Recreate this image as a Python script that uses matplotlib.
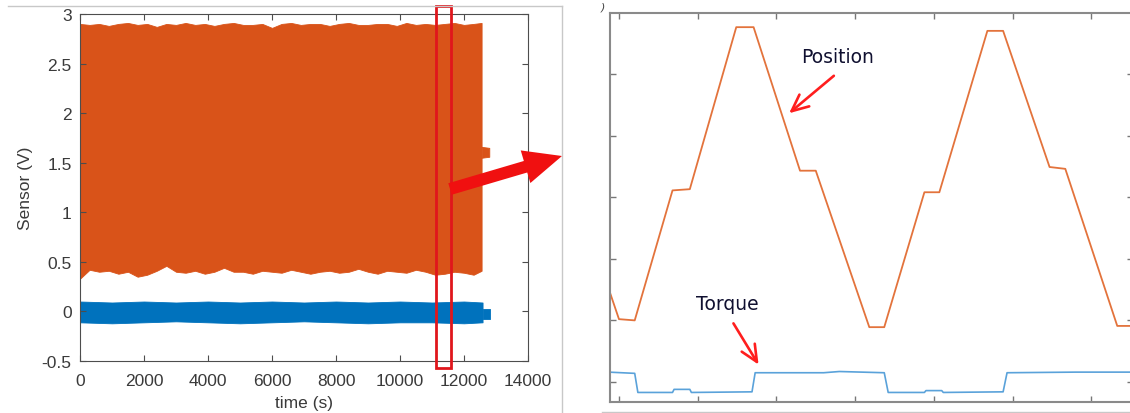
import matplotlib.pyplot as plt
import matplotlib.patches as mpatches
import matplotlib.transforms as mtransforms
from matplotlib.lines import Line2D

# ---- left panel: whole run (envelopes) ----
t_env = [0, 300, 600, 900, 1200, 1500, 1800, 2100, 2400, 2700, 3000, 3300,
         3600, 3900, 4200, 4500, 4800, 5100, 5400, 5700, 6000, 6300, 6600,
         6900, 7200, 7500, 7800, 8100, 8400, 8700, 9000, 9300, 9600, 9900,
         10200, 10500, 10800, 11100, 11400, 11700, 12000, 12300, 12550]
pos_upper = [2.90, 2.89, 2.90, 2.88, 2.90, 2.91, 2.89, 2.90, 2.87, 2.90, 2.89,
             2.91, 2.89, 2.90, 2.88, 2.90, 2.91, 2.89, 2.89, 2.90, 2.86, 2.90,
             2.91, 2.89, 2.90, 2.90, 2.88, 2.90, 2.91, 2.89, 2.89, 2.90, 2.90,
             2.88, 2.91, 2.89, 2.90, 2.89, 2.90, 2.91, 2.89, 2.90, 2.91]
pos_lower = [0.33, 0.42, 0.40, 0.41, 0.38, 0.40, 0.35, 0.37, 0.41, 0.46, 0.40,
             0.39, 0.41, 0.38, 0.40, 0.44, 0.40, 0.40, 0.38, 0.41, 0.40, 0.39,
             0.42, 0.40, 0.38, 0.40, 0.41, 0.39, 0.40, 0.43, 0.40, 0.38, 0.41,
             0.40, 0.39, 0.42, 0.40, 0.37, 0.38, 0.40, 0.39, 0.37, 0.41]
t_tq = [0, 1000, 2000, 3000, 4000, 5000, 6000, 7000, 8000, 9000, 10000,
        11000, 12000, 12580]
tq_upper = [0.10, 0.09, 0.10, 0.09, 0.10, 0.09, 0.10, 0.09, 0.10, 0.09, 0.10,
            0.09, 0.10, 0.09]
tq_lower = [-0.11, -0.12, -0.11, -0.10, -0.11, -0.12, -0.11, -0.10, -0.11,
            -0.12, -0.11, -0.11, -0.12, -0.11]
# short tail pieces after the run stops
t_pos_tail = [12553, 12790]
pos_tail_lo = [1.55, 1.56]
pos_tail_hi = [1.66, 1.65]
t_tq_tail = [12580, 12810]
tq_tail_lo = [-0.08, -0.08]
tq_tail_hi = [0.02, 0.02]
zoom_window = [11130, 11590]

# ---- right panel: zoomed window ----
pos_x = [-0.13, 0.00, 0.20, 0.68, 0.90, 1.49, 1.71, 2.30, 2.50, 3.18, 3.37,
         3.88, 4.07, 4.68, 4.88, 5.47, 5.67, 6.33, 6.60]
pos_y = [1.51, 1.02, 1.00, 3.11, 3.13, 5.76, 5.76, 3.43, 3.43, 0.89, 0.89,
         3.08, 3.08, 5.70, 5.70, 3.49, 3.46, 0.91, 0.91]
trq_x = [-0.13, 0.20, 0.24, 0.68, 0.70, 0.90, 0.92, 1.69, 1.73, 2.60, 2.80,
         3.37, 3.42, 3.88, 3.90, 4.10, 4.12, 4.88, 4.93, 5.80, 6.60]
trq_y = [0.16, 0.14, -0.17, -0.17, -0.12, -0.12, -0.17, -0.16, 0.15, 0.15,
         0.17, 0.15, -0.17, -0.17, -0.14, -0.14, -0.17, -0.16, 0.15, 0.16, 0.16]

ORANGE = '#D95319'
BLUE = '#0072BD'
W, H = 1130, 414

fig = plt.figure(figsize=(W / 100, H / 100), dpi=100)
font = ['Liberation Sans', 'DejaVu Sans']

# left axes
ax1 = fig.add_axes([80 / W, (H - 362) / H, 448 / W, 347 / H])
ax1.fill_between(t_env, pos_lower, pos_upper, color=ORANGE, lw=0.6, edgecolor=ORANGE)
ax1.fill_between(t_pos_tail, pos_tail_lo, pos_tail_hi, color=ORANGE, lw=0.6)
ax1.fill_between(t_tq, tq_lower, tq_upper, color=BLUE, lw=0.6, edgecolor=BLUE)
ax1.fill_between(t_tq_tail, tq_tail_lo, tq_tail_hi, color=BLUE, lw=0.6)
ax1.set_xlim(0, 14000)
ax1.set_ylim(-0.5, 3)
ax1.set_xticks([0, 2000, 4000, 6000, 8000, 10000, 12000, 14000])
ax1.set_yticks([-0.5, 0, 0.5, 1, 1.5, 2, 2.5, 3])
ax1.set_yticklabels(['-0.5', '0', '0.5', '1', '1.5', '2', '2.5', '3'])
ax1.tick_params(direction='in', top=True, right=True, length=4, width=0.8,
                color='#4d4d4d', labelcolor='#3a3a3a', labelsize=12.5)
ax1.tick_params(axis='x', pad=9)
ax1.tick_params(axis='y', pad=6)
for lab in ax1.get_xticklabels() + ax1.get_yticklabels():
    lab.set_family(font)
for sp in ax1.spines.values():
    sp.set_color('#4d4d4d')
    sp.set_linewidth(0.8)
ax1.set_xlabel('time (s)', fontsize=12.5, family=font, color='#3a3a3a', labelpad=5)
ax1.set_ylabel('Sensor (V)', fontsize=12.5, family=font, color='#3a3a3a', labelpad=6)

# red box marking the zoomed window
ax1.add_patch(mpatches.Rectangle((zoom_window[0], -0.57), zoom_window[1] - zoom_window[0],
                                 3.65, fill=False, edgecolor='#E0161C', lw=2,
                                 clip_on=False, zorder=5))

# right axes
ax2 = fig.add_axes([610 / W, (H - 403) / H, 523 / W, 389 / H])
ax2.plot(pos_x, pos_y, color='#E3733C', lw=1.3)
ax2.plot(trq_x, trq_y, color='#5AA2DA', lw=1.2)
ax2.set_xlim(-0.114, 6.53)
ax2.set_ylim(-0.325, 5.99)
ax2.set_xticks(range(0, 7))
ax2.set_yticks(range(0, 6))
ax2.set_xticklabels([])
ax2.set_yticklabels([])
ax2.tick_params(direction='in', top=True, right=True, length=4, width=1,
                color='#777777')
for sp in ax2.spines.values():
    sp.set_color('#8a8a8a')
    sp.set_linewidth(1.5)

ax2.annotate('Position', xy=(838, H - 58), xycoords='figure pixels',
             ha='center', va='center', fontsize=13.5, color='#101030')
ax2.annotate('Torque', xy=(727, H - 305), xycoords='figure pixels',
             ha='center', va='center', fontsize=13.5, color='#101030')
arrow_kw = dict(arrowstyle='->,head_length=1.2,head_width=0.55', color='#FF1E1E', lw=1.9)
ax2.annotate('', xy=(787, H - 116), xytext=(836, H - 75), xycoords='figure pixels',
             textcoords='figure pixels', arrowprops=arrow_kw)
ax2.annotate('', xy=(760, H - 368), xytext=(732, H - 322), xycoords='figure pixels',
             textcoords='figure pixels', arrowprops=arrow_kw)
ax2.annotate(')', xy=(603, H - 8), xycoords='figure pixels', ha='center', va='center',
             fontsize=8, style='italic', color='#444444')

# big arrow from the box to the zoomed panel
fig.add_artist(mpatches.FancyArrow(450, H - 190, 112, 33, width=12, head_width=34,
                                   head_length=38, length_includes_head=True,
                                   color='#F01010', lw=0,
                                   transform=mtransforms.IdentityTransform()))

# light frame lines around the two pictures
ident = mtransforms.IdentityTransform()
frame_kw = dict(color='#c8c8c8', lw=1, transform=ident)
fig.add_artist(Line2D([8, 562], [H - 7, H - 7], **frame_kw))
fig.add_artist(Line2D([562, 562], [H - 7, 0], **frame_kw))
fig.add_artist(Line2D([602, W], [H - 413, H - 413], **frame_kw))

fig.savefig('out.png', dpi=100)
